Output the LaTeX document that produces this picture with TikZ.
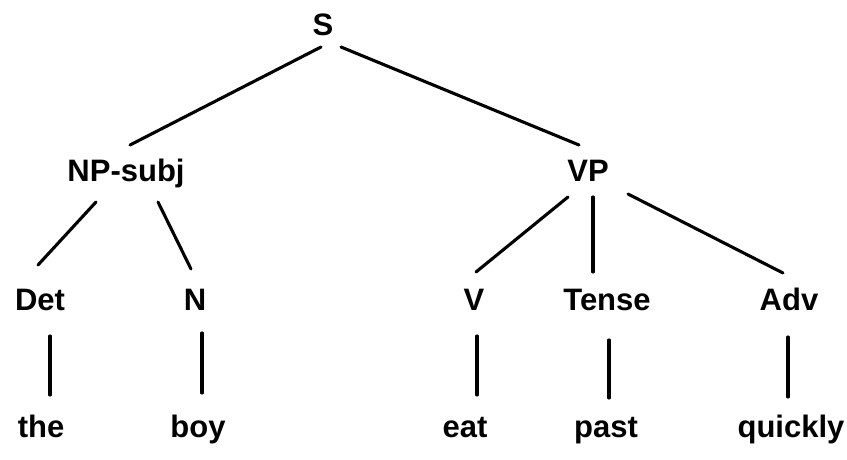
\documentclass[tikz,border=0pt]{standalone}
\usepackage{fontspec}
\setmainfont{Liberation Sans}
\begin{document}
\begin{tikzpicture}[x=1pt,y=1pt,
  lbl/.style={anchor=base,inner sep=0pt,font=\bfseries\fontsize{31}{37}\selectfont},
  edge/.style={line width=3.1pt,line cap=round}]
\useasboundingbox (0,0) rectangle (847,-459);
% nodes (base anchors)
\node[lbl] (S) at (323,-35) {S};
\node[lbl] (NP) at (126,-181) {NP-subj};
\node[lbl] (VP) at (588,-181) {VP};
\node[lbl] (Det) at (40,-310) {Det};
\node[lbl] (N) at (195,-310) {N};
\node[lbl] (V) at (474,-310) {V};
\node[lbl] (T) at (607,-310) {Tense};
\node[lbl] (Adv) at (789,-310) {Adv};
\node[lbl] (the) at (41,-437) {the};
\node[lbl] (boy) at (198,-437) {boy};
\node[lbl] (eat) at (465,-437) {eat};
\node[lbl] (past) at (606,-437) {past};
\node[lbl] (quickly) at (791,-437) {quickly};
% connectors
\draw[edge] ([shift={(-2,-12)}]S.base) -- ([shift={(4,36)}]NP.base);
\draw[edge] ([shift={(18,-12)}]S.base) -- ([shift={(-9,36)}]VP.base);
\draw[edge] ([shift={(-30,-21)}]NP.base) -- ([shift={(-2,45)}]Det.base);
\draw[edge] ([shift={(32,-21)}]NP.base) -- ([shift={(-4,41)}]N.base);
\draw[edge] ([shift={(-20,-16)}]VP.base) -- ([shift={(2,38)}]V.base);
\draw[edge] ([shift={(5,-16)}]VP.base) -- ([shift={(-14,38)}]T.base);
\draw[edge] ([shift={(40,-13)}]VP.base) -- ([shift={(-6,37)}]Adv.base);
\draw[edge] ([shift={(10,-26)}]Det.base) -- ([shift={(9,42)}]the.base);
\draw[edge] ([shift={(7,-23)}]N.base) -- ([shift={(4,44)}]boy.base);
\draw[edge] ([shift={(3,-26)}]V.base) -- ([shift={(12,42)}]eat.base);
\draw[edge] ([shift={(2,-30)}]T.base) -- ([shift={(3,39)}]past.base);
\draw[edge] ([shift={(-1,-27)}]Adv.base) -- ([shift={(-3,40)}]quickly.base);
\end{tikzpicture}
\end{document}
